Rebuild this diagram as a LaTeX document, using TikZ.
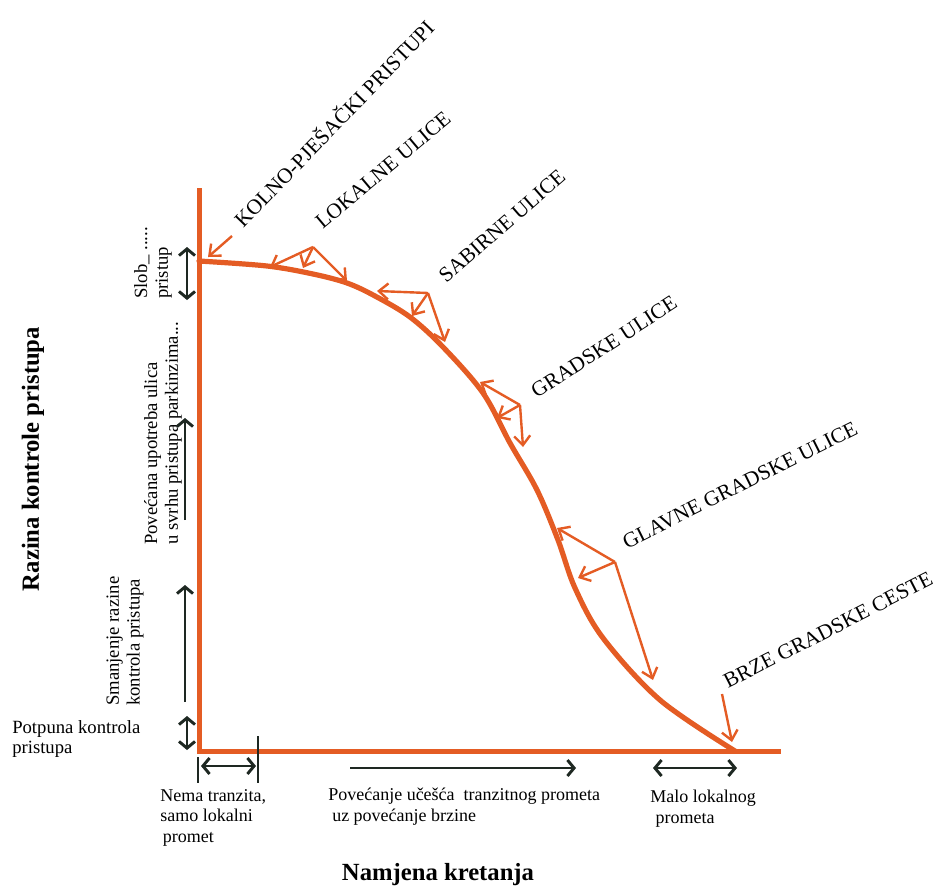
\documentclass[tikz,border=0pt]{standalone}
\usepackage{fontspec}
\setmainfont{Liberation Serif}
\usetikzlibrary{arrows.meta}
\definecolor{axorange}{RGB}{228,92,36}
\definecolor{darkarr}{RGB}{30,40,34}
\begin{document}
\begin{tikzpicture}[x=0.75pt,y=-0.75pt,
  axis/.style={draw=axorange, line width=3.75pt, line join=miter},
  curvestyle/.style={draw=axorange, line width=3.9pt, line cap=round, line join=round},
  oarrow/.style={draw=axorange, line width=1.8pt, -{Straight Barb[length=7pt,width=12pt]}},
  barrow/.style={draw=darkarr, line width=2.2pt, -{Straight Barb[length=5pt,width=12pt]}},
  bdarrow/.style={draw=darkarr, line width=2.2pt, {Straight Barb[length=5pt,width=12pt]}-{Straight Barb[length=5pt,width=12pt]}},
  tickline/.style={draw=darkarr, line width=0.8pt},
  caplabel/.style={font=\fontsize{16}{19}\selectfont, inner sep=0pt},
  txt/.style={font=\fontsize{13.5}{15.4}\selectfont, align=left, inner sep=0pt},
  ltxt/.style={font=\fontsize{14}{15.5}\selectfont, align=left, inner sep=0pt},
  titletxt/.style={font=\fontsize{18.5}{22}\selectfont\bfseries, inner sep=0pt}
]
\useasboundingbox (0,0) rectangle (938,886);

% axes
\coordinate (Ytop) at (199,188);
\coordinate (O) at (199,751);
\coordinate (Xend) at (781,751);
\draw[axis] (Ytop) -- (O) -- (Xend);

% curve
\draw[curvestyle] plot[smooth, tension=0.55] coordinates {(199,261) (267,266) (313,274) (347,283) (375,296) (410,317) (443,347) (483,393) (510,443) (537,490) (558,540) (575,588) (603,638) (660,700) (735,751)};

% category labels
\node[caplabel, rotate=46] (kolno) at (333,123) {KOLNO-PJEŠAČKI PRISTUPI};
\node[caplabel, rotate=40] (lokalne) at (383,170) {LOKALNE ULICE};
\node[caplabel, rotate=41] (sabirne) at (502,226) {SABIRNE ULICE};
\node[caplabel, rotate=33] (gradske) at (604,347) {GRADSKE ULICE};
\node[caplabel, rotate=26.5] (glavne) at (740,485) {GLAVNE GRADSKE ULICE};
\node[caplabel, rotate=27] (brze) at (828,630) {BRZE GRADSKE CESTE};

% orange pointer arrows
\coordinate (kA) at (232,236); \coordinate (kB) at (208,257);
\draw[oarrow] (kA) -- (kB);

\coordinate (v1) at (313,247);
\coordinate (v1a) at (270,267); \coordinate (v1b) at (303,268); \coordinate (v1c) at (347,281);
\draw[oarrow] (v1) -- (v1a);
\draw[oarrow] (v1) -- (v1b);
\draw[oarrow] (v1) -- (v1c);

\coordinate (v2) at (428,293);
\coordinate (v2a) at (377,291); \coordinate (v2b) at (412,316); \coordinate (v2c) at (445,342);
\draw[oarrow] (v2) -- (v2a);
\draw[oarrow] (v2) -- (v2b);
\draw[oarrow] (v2) -- (v2c);

\coordinate (v3) at (520,405);
\coordinate (v3a) at (480,382); \coordinate (v3b) at (497,418); \coordinate (v3c) at (523,447);
\draw[oarrow] (v3) -- (v3a);
\draw[oarrow] (v3) -- (v3b);
\draw[oarrow] (v3) -- (v3c);

\coordinate (v4) at (615,562);
\coordinate (v4a) at (557,528); \coordinate (v4b) at (578,578); \coordinate (v4c) at (653,680);
\draw[oarrow] (v4) -- (v4a);
\draw[oarrow] (v4) -- (v4b);
\draw[oarrow] (v4) -- (v4c);

\coordinate (bA) at (722,694); \coordinate (bB) at (732,742);
\draw[oarrow] (bA) -- (bB);

% left side
\node[titletxt, rotate=90] (razina) at (33,459) {Razina kontrole pristupa};
\node[ltxt, rotate=90, anchor=west] (slob) at (153,299) {Slob\_ .....\\pristup};
\node[ltxt, rotate=90, anchor=west] (povecana) at (163,545) {Povećana upotreba ulica\\u svrhu pristupa parkinzima...};
\node[ltxt, rotate=90, anchor=west] (smanjenje) at (125,706) {Smanjenje razine\\kontrola pristupa};
\node[ltxt, anchor=north west] (potpuna) at (12,720) {Potpuna kontrola\\pristupa};

\coordinate (s1) at (187,247); \coordinate (s2) at (187,300);
\draw[bdarrow] (s1) -- (s2);
\coordinate (p1) at (185,520); \coordinate (p2) at (185,418);
\draw[barrow] (p1) -- (p2);
\coordinate (m1) at (185,702); \coordinate (m2) at (185,585);
\draw[barrow] (m1) -- (m2);
\coordinate (t1) at (187,716); \coordinate (t2) at (187,750);
\draw[bdarrow] (t1) -- (t2);

% bottom
\coordinate (n1) at (201,766); \coordinate (n2) at (256,766);
\draw[bdarrow] (n1) -- (n2);
\coordinate (tk1a) at (198,757); \coordinate (tk1b) at (198,783);
\draw[tickline] (tk1a) -- (tk1b);
\coordinate (tk2a) at (258,736); \coordinate (tk2b) at (258,783);
\draw[tickline] (tk2a) -- (tk2b);
\coordinate (u1) at (350,768); \coordinate (u2) at (576,768);
\draw[barrow] (u1) -- (u2);
\coordinate (l1) at (653,768); \coordinate (l2) at (737,768);
\draw[bdarrow] (l1) -- (l2);

\node[txt, anchor=north west] (nema) at (160,789) {Nema tranzita,\\samo lokalni\\\hspace*{2pt}promet};
\node[txt, anchor=north west] (tranz) at (328,788) {Povećanje učešća\ \ tranzitnog prometa\\\hspace*{3pt}uz povećanje brzine};
\node[txt, anchor=north west] (malo) at (650,790) {Malo lokalnog\\\hspace*{4pt}prometa};

\node[titletxt, anchor=base] (namjena) at (438,880) {Namjena kretanja};
\end{tikzpicture}
\end{document}
